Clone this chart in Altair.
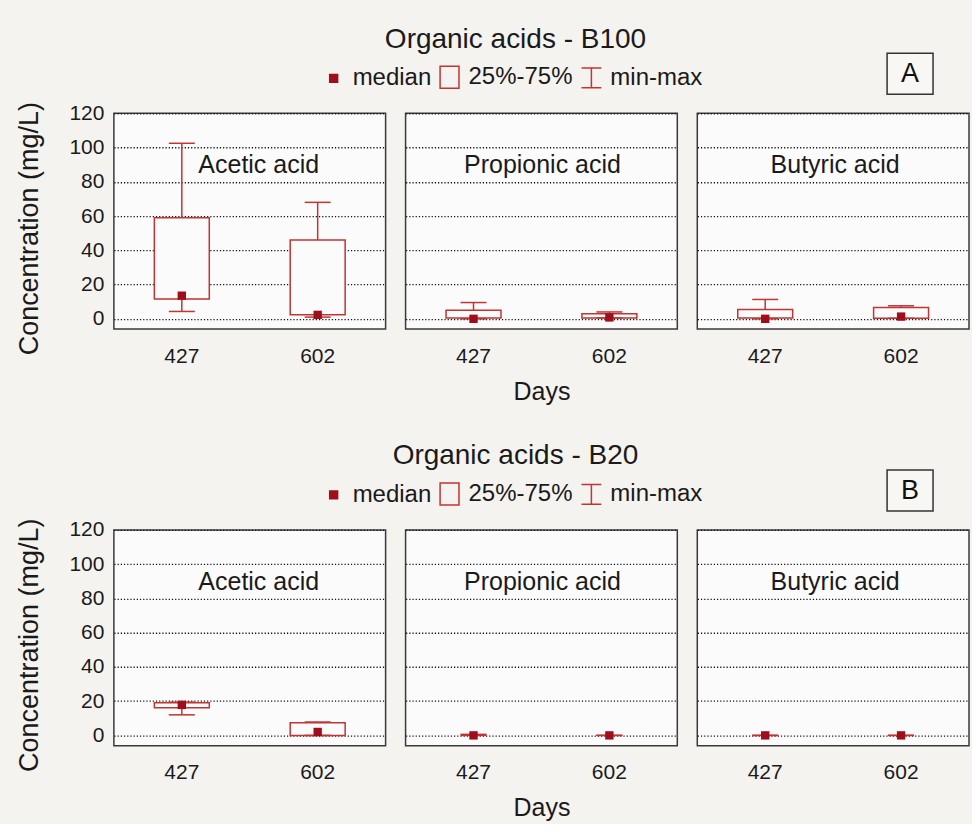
import altair as alt
import pandas as pd

# ---------------- data ----------------
ACIDS = ["Acetic acid", "Propionic acid", "Butyric acid"]
DAYS = ["427", "602"]
acid_col = ["Acetic acid", "Acetic acid", "Propionic acid", "Propionic acid", "Butyric acid", "Butyric acid"]
day_col = ["427", "602", "427", "602", "427", "602"]

# B100
b100_min = [4.3, 1.0, 0.0, 0.5, 0.0, 0.3]
b100_q1 = [11.5, 2.3, 0.5, 0.5, 0.5, 0.3]
b100_med = [13.5, 2.3, 0.0, 0.8, 0.0, 1.3]
b100_q3 = [59.0, 46.0, 5.0, 3.0, 5.4, 6.6]
b100_max = [102.5, 68.0, 9.5, 4.0, 11.3, 7.6]

# B20
b20_min = [12.0, 0.0, 0.0, 0.0, 0.0, 0.0]
b20_q1 = [16.2, 0.0, 0.0, 0.0, 0.0, 0.0]
b20_med = [17.8, 2.0, 0.0, 0.0, 0.0, 0.0]
b20_q3 = [19.0, 7.4, 0.0, 0.0, 0.0, 0.0]
b20_max = [19.4, 7.8, 0.6, 0.0, 0.0, 0.0]

legend_items = ["median", "25%-75%", "min-max"]
y_ticks = [0, 20, 40, 60, 80, 100, 120]

# ---------------- style ----------------
FONT = "Liberation Sans"
BG = "#f5f3ef"
PANEL = "#fbfbfb"
BOX_RED = "#c03535"
MED_RED = "#9e0f1b"
TXT = "#1a1a1a"
W, H = 272, 216
LABEL_X = [145, 137, 138]


def make_df(mn, q1, med, q3, mx):
    return pd.DataFrame({"acid": acid_col, "day": day_col, "mn": mn, "q1": q1,
                         "med": med, "q3": q3, "mx": mx})


def panel(df, acid, idx):
    base = alt.Chart(df).transform_filter(alt.datum.acid == acid)
    xaxis = alt.Axis(title="Days" if idx == 1 else None, labelAngle=0, ticks=False,
                     domain=False, labelPadding=16, labelFontSize=21, labelFont=FONT,
                     labelColor=TXT, titleFont=FONT, titleFontSize=25,
                     titleFontWeight="normal", titleColor=TXT, titlePadding=13)
    xenc = alt.X("day:N", scale=alt.Scale(domain=DAYS, paddingInner=0, paddingOuter=0),
                 axis=xaxis)
    yaxis = alt.Axis(values=y_ticks, grid=True, gridDash=[1.2, 2], gridColor="#111",
                     gridWidth=1.3, labels=(idx == 0), ticks=False, domain=False,
                     labelPadding=10, labelFontSize=21, labelFont=FONT, labelColor=TXT,
                     title="Concentration (mg/L)" if idx == 0 else None,
                     titleFont=FONT, titleFontSize=27, titleFontWeight="normal",
                     titleColor=TXT, titlePadding=25, titleY=115)
    yscale = alt.Scale(domain=[-6, 120], nice=False, zero=False)

    def yenc(f):
        return alt.Y(f + ":Q", scale=yscale, axis=yaxis)

    rule = base.mark_rule(color=BOX_RED, strokeWidth=1.5).encode(
        x=xenc, y=yenc("mn"), y2="mx:Q")
    box = base.transform_filter("datum.q3 > datum.q1").mark_bar(
        size=55, fill=PANEL, stroke=BOX_RED, strokeWidth=1.5).encode(
        x=xenc, y=yenc("q1"), y2="q3:Q")
    cap_lo = base.mark_tick(size=26, thickness=1.5, color=BOX_RED, opacity=1).encode(
        x=xenc, y=yenc("mn"))
    cap_hi = base.mark_tick(size=26, thickness=1.5, color=BOX_RED, opacity=1).encode(
        x=xenc, y=yenc("mx"))
    med = base.mark_square(size=70, color=MED_RED, opacity=1, filled=True).encode(
        x=xenc, y=yenc("med"))
    label = alt.Chart(pd.DataFrame({"name": [acid]})).mark_text(
        font=FONT, fontSize=25, color=TXT, baseline="middle", align="center").encode(
        text="name:N", x=alt.value(LABEL_X[idx]), y=alt.value(52))
    return alt.layer(rule, box, cap_lo, cap_hi, med, label).properties(
        width=W, height=H,
        view=alt.ViewBackground(fill=PANEL, stroke="#3a3a3a", strokeWidth=1.5))


def header(tag):
    shape_range = ["M-0.36,-0.36H0.36V0.36H-0.36Z",
                   "M-0.86,-1H0.86V1H-0.86Z",
                   "M-0.9,-0.9H0.9M0,-0.9V0.9M-0.9,0.9H0.9"]
    leg = alt.Legend(orient="none", legendX=208, legendY=16, direction="horizontal",
                     title=None, labelFont=FONT, labelFontSize=24, labelColor=TXT,
                     symbolSize=484, symbolStrokeWidth=1.5, symbolOpacity=1,
                     columnPadding=5, labelOffset=7, padding=0)
    ldf = pd.DataFrame({"item": legend_items})
    lg = alt.Chart(ldf).transform_filter("false").mark_point(filled=True, opacity=1).encode(
        shape=alt.Shape("item:N", scale=alt.Scale(domain=legend_items, range=shape_range), legend=leg),
        fill=alt.Fill("item:N", scale=alt.Scale(domain=legend_items,
                                                range=[MED_RED, "transparent", "transparent"]), legend=leg),
        stroke=alt.Stroke("item:N", scale=alt.Scale(domain=legend_items,
                                                    range=[MED_RED, BOX_RED, BOX_RED]), legend=leg),
    )
    tdf = pd.DataFrame({"tag": [tag]})
    rect = alt.Chart(tdf).mark_rect(fill="#f8f7f4", stroke="#333", strokeWidth=1.5).encode(
        x=alt.value(774), x2=alt.value(820), y=alt.value(4), y2=alt.value(45))
    txt = alt.Chart(tdf).mark_text(font=FONT, fontSize=27, color="#111",
                                   baseline="middle", align="center").encode(
        text="tag:N", x=alt.value(797), y=alt.value(25))
    return alt.layer(lg, rect, txt).properties(width=850, height=50)


def section(df, title, tag):
    row = alt.hconcat(*[panel(df, a, i) for i, a in enumerate(ACIDS)], spacing=18)
    return alt.vconcat(header(tag), row, spacing=0,
                       title=alt.TitleParams(title, font=FONT, fontSize=28, fontWeight="normal",
                                             color=TXT, anchor="middle", dx=23, offset=-5)
                       ).resolve_scale(shape="independent", fill="independent", stroke="independent"
                       ).resolve_legend(shape="independent", fill="independent", stroke="independent")


secA = section(make_df(b100_min, b100_q1, b100_med, b100_q3, b100_max), "Organic acids - B100", "A")
secB = section(make_df(b20_min, b20_q1, b20_med, b20_q3, b20_max), "Organic acids - B20", "B")

chart = alt.vconcat(secA, secB, spacing=37).resolve_scale(
    shape="independent", fill="independent", stroke="independent").resolve_legend(
    shape="independent", fill="independent", stroke="independent").properties(
    background=BG, padding={"left": 15, "top": 25, "right": 2, "bottom": 2}
).configure_view(stroke="transparent")

chart.save("out.html", embed_options={"renderer": "svg", "actions": False})
